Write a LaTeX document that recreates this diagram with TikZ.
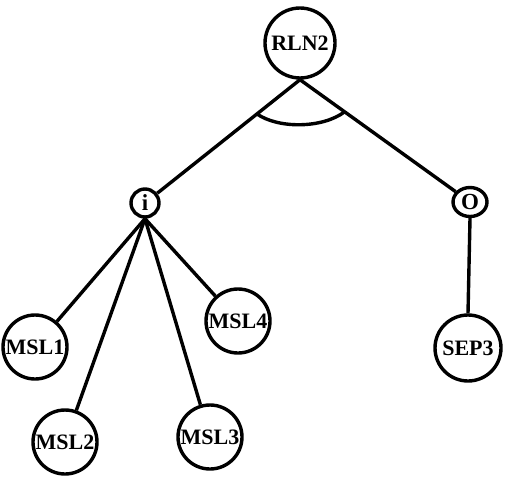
\documentclass[tikz,border=0pt]{standalone}
\usepackage{fontspec}
\newfontfamily\labelfont{Liberation Serif}
\usetikzlibrary{shapes.geometric,calc}
\begin{document}
\begin{tikzpicture}[x=0.5pt,y=-0.5pt,
  line width=1.7pt,
  tnode/.style={circle,draw,line width=1.7pt,inner sep=0pt,minimum size=#1,
    font=\labelfont\fontsize{11}{12}\selectfont\bfseries},
  port/.style={draw,line width=1.7pt,inner sep=0pt,
    font=\labelfont\fontsize{11.5}{12}\selectfont\bfseries}]
\useasboundingbox (0,0) rectangle (507,482);
% root and its two ports
\node[tnode=35pt] (rln) at (300,43) {RLN2};
\node[port,circle,minimum size=14pt] (pi) at (145,203) {i};
\node[port,ellipse,minimum width=17pt,minimum height=14.5pt] (po) at (470,202) {O};
% leaves
\node[tnode=32pt] (msl1) at (35,347) {MSL1};
\node[tnode=32pt] (msl2) at (65,442) {MSL2};
\node[tnode=32pt] (msl3) at (210,437) {MSL3};
\node[tnode=32pt] (msl4) at (238,321) {MSL4};
\node[tnode=33pt] (sep3) at (468,348) {SEP3};
% edges
\draw (rln.south) -- (pi);
\draw (rln.south) -- (po);
\foreach \c in {msl1,msl2,msl3,msl4}
  \draw (pi.south) -- (\c);
\draw (po.south) -- (sep3.north);
% AND arc between the two root edges
\coordinate (a1) at ($(rln.south)!55pt/2!(pi.center)$);
\coordinate (a2) at ($(rln.south)!55pt/2!(po.center)$);
\draw (a1) .. controls ($(rln.south)+(-22,49)$) and ($(rln.south)+(22,49)$) .. (a2);
\end{tikzpicture}
\end{document}
